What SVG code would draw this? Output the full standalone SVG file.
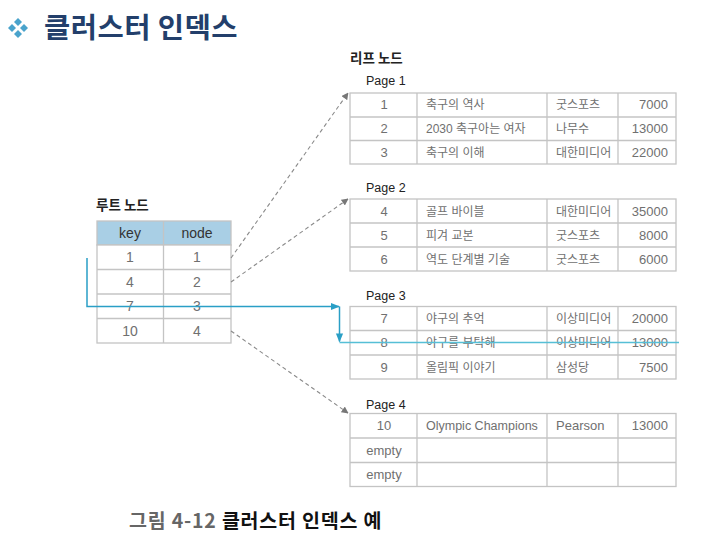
<svg xmlns="http://www.w3.org/2000/svg" width="720" height="535" viewBox="0 0 720 535">
<defs>
<style>
.t{font-family:"Liberation Sans","Noto Sans CJK KR",sans-serif;font-size:13px;fill:#707070}
.k{font-size:12px}
.c{text-anchor:middle}
.r{text-anchor:end}
.lbl{font-family:"Liberation Sans","Noto Sans CJK KR",sans-serif;font-size:12.5px;fill:#222}
.hd{font-family:"Noto Sans CJK KR",sans-serif;font-size:13.5px;font-weight:bold;fill:#222}
.grid{fill:#fff;stroke:#c4c4c4;stroke-width:1.3}
.ln{stroke:#c4c4c4;stroke-width:1.3}
.dash{stroke:#8a8a8a;stroke-width:1.1;stroke-dasharray:4,3;fill:none}
.blue{stroke:#2a9fc6;stroke-width:1.5;fill:none}
</style>
<marker id="ga" viewBox="0 0 10 10" refX="9" refY="5" markerWidth="7" markerHeight="7" orient="auto" markerUnits="userSpaceOnUse"><path d="M0,0 L10,5 L0,10 z" fill="#777"/></marker>
<marker id="ba" viewBox="0 0 10 10" refX="9" refY="5" markerWidth="9" markerHeight="9" orient="auto" markerUnits="userSpaceOnUse"><path d="M0,1 L10,5 L0,9 z" fill="#2a9fc6"/></marker>
</defs>
<rect width="720" height="535" fill="#fff"/>

<g id="title">
<g fill="#4aa3cc">
<path d="M18,18 L22,22 L18,26 L14,22 z"/>
<path d="M12,24 L16,28 L12,32 L8,28 z"/>
<path d="M24,24 L28,28 L24,32 L20,28 z"/>
<path d="M18,30 L22,34 L18,38 L14,34 z"/>
</g>
<text x="44" y="38" font-family="'Noto Sans CJK KR',sans-serif" font-size="28.5" font-weight="bold" letter-spacing="0.5" fill="#233f6b">클러스터 인덱스</text>
</g>

<g id="root">
<text x="96" y="210" class="hd">루트 노드</text>
<rect x="97" y="221" width="134" height="24" fill="#a9cfe5" stroke="#c4c4c4" stroke-width="1.3"/>
<rect x="97" y="245" width="134" height="98" class="grid"/>
<line x1="163.5" y1="221" x2="163.5" y2="343" class="ln"/>
<line x1="97" y1="269.5" x2="231" y2="269.5" class="ln"/>
<line x1="97" y1="294" x2="231" y2="294" class="ln"/>
<line x1="97" y1="318.5" x2="231" y2="318.5" class="ln"/>
<text x="130" y="238" class="t c" style="fill:#333;font-size:14px">key</text>
<text x="197" y="238" class="t c" style="fill:#333;font-size:14px">node</text>
<text x="130" y="262" class="t c" style="font-size:14px">1</text><text x="197" y="262" class="t c" style="font-size:14px">1</text>
<text x="130" y="287" class="t c" style="font-size:14px">4</text><text x="197" y="287" class="t c" style="font-size:14px">2</text>
<text x="130" y="311" class="t c" style="font-size:14px">7</text><text x="197" y="311" class="t c" style="font-size:14px">3</text>
<text x="130" y="336" class="t c" style="font-size:14px">10</text><text x="197" y="336" class="t c" style="font-size:14px">4</text>
</g>

<text x="350" y="63" class="hd">리프 노드</text>

<g id="page1">
<text x="366" y="85" class="lbl">Page 1</text>
<rect x="350" y="93" width="326" height="71" class="grid"/>
<line x1="417" y1="93" x2="417" y2="164" class="ln"/>
<line x1="547" y1="93" x2="547" y2="164" class="ln"/>
<line x1="618" y1="93" x2="618" y2="164" class="ln"/>
<line x1="350" y1="117" x2="676" y2="117" class="ln"/>
<line x1="350" y1="140.5" x2="676" y2="140.5" class="ln"/>
<text x="384" y="109" class="t c">1</text><text x="426" y="109" class="t k">축구의 역사</text><text x="556" y="109" class="t k">굿스포츠</text><text x="668" y="109" class="t r">7000</text>
<text x="384" y="133" class="t c">2</text><text x="426" y="133" class="t k">2030 축구아는 여자</text><text x="556" y="133" class="t k">나무수</text><text x="668" y="133" class="t r">13000</text>
<text x="384" y="157" class="t c">3</text><text x="426" y="157" class="t k">축구의 이해</text><text x="556" y="157" class="t k">대한미디어</text><text x="668" y="157" class="t r">22000</text>
</g>

<g id="page2">
<text x="366" y="192" class="lbl">Page 2</text>
<rect x="350" y="199" width="326" height="72" class="grid"/>
<line x1="417" y1="199" x2="417" y2="271" class="ln"/>
<line x1="547" y1="199" x2="547" y2="271" class="ln"/>
<line x1="618" y1="199" x2="618" y2="271" class="ln"/>
<line x1="350" y1="223" x2="676" y2="223" class="ln"/>
<line x1="350" y1="247" x2="676" y2="247" class="ln"/>
<text x="384" y="216" class="t c">4</text><text x="426" y="216" class="t k">골프 바이블</text><text x="556" y="216" class="t k">대한미디어</text><text x="668" y="216" class="t r">35000</text>
<text x="384" y="240" class="t c">5</text><text x="426" y="240" class="t k">피겨 교본</text><text x="556" y="240" class="t k">굿스포츠</text><text x="668" y="240" class="t r">8000</text>
<text x="384" y="264" class="t c">6</text><text x="426" y="264" class="t k">역도 단계별 기술</text><text x="556" y="264" class="t k">굿스포츠</text><text x="668" y="264" class="t r">6000</text>
</g>

<g id="page3">
<text x="366" y="300" class="lbl">Page 3</text>
<rect x="350" y="306.5" width="326" height="72.5" class="grid"/>
<line x1="417" y1="306.5" x2="417" y2="379" class="ln"/>
<line x1="547" y1="306.5" x2="547" y2="379" class="ln"/>
<line x1="618" y1="306.5" x2="618" y2="379" class="ln"/>
<line x1="350" y1="330.5" x2="676" y2="330.5" class="ln"/>
<line x1="350" y1="355" x2="676" y2="355" class="ln"/>
<text x="384" y="323" class="t c">7</text><text x="426" y="323" class="t k">야구의 추억</text><text x="556" y="323" class="t k">이상미디어</text><text x="668" y="323" class="t r">20000</text>
<text x="384" y="347" class="t c">8</text><text x="426" y="347" class="t k">야구를 부탁해</text><text x="556" y="347" class="t k">이상미디어</text><text x="668" y="347" class="t r">13000</text>
<text x="384" y="372" class="t c">9</text><text x="426" y="372" class="t k">올림픽 이야기</text><text x="556" y="372" class="t k">삼성당</text><text x="668" y="372" class="t r">7500</text>
</g>

<g id="page4">
<text x="366" y="409" class="lbl">Page 4</text>
<rect x="350" y="413.5" width="326" height="73" class="grid"/>
<line x1="417" y1="413.5" x2="417" y2="486.5" class="ln"/>
<line x1="547" y1="413.5" x2="547" y2="486.5" class="ln"/>
<line x1="618" y1="413.5" x2="618" y2="486.5" class="ln"/>
<line x1="350" y1="438" x2="676" y2="438" class="ln"/>
<line x1="350" y1="462.5" x2="676" y2="462.5" class="ln"/>
<text x="384" y="430" class="t c">10</text><text x="426" y="430" class="t" style="font-size:12.5px">Olympic Champions</text><text x="556" y="430" class="t">Pearson</text><text x="668" y="430" class="t r">13000</text>
<text x="384" y="455" class="t c">empty</text>
<text x="384" y="479" class="t c">empty</text>
</g>

<g id="connectors">
<line x1="231" y1="258" x2="348" y2="93" class="dash" marker-end="url(#ga)"/>
<line x1="231" y1="282" x2="348" y2="199" class="dash" marker-end="url(#ga)"/>
<line x1="231" y1="331" x2="348" y2="413" class="dash" marker-end="url(#ga)"/>
<polyline points="87,258 87,306.5 339,306.5" class="blue" marker-end="url(#ba)"/>
<line x1="339.5" y1="306.5" x2="339.5" y2="341.5" class="blue" marker-end="url(#ba)"/>
<line x1="339.5" y1="342.5" x2="679" y2="342.5" stroke="#56bfd6" stroke-width="1.5"/>
</g>

<g id="caption" font-family="'Noto Sans CJK KR',sans-serif" font-size="19.5" font-weight="bold" letter-spacing="0.8">
<text x="129" y="528"><tspan fill="#666">그림 4-12 </tspan><tspan fill="#111">클러스터 인덱스 예</tspan></text>
</g>
</svg>
